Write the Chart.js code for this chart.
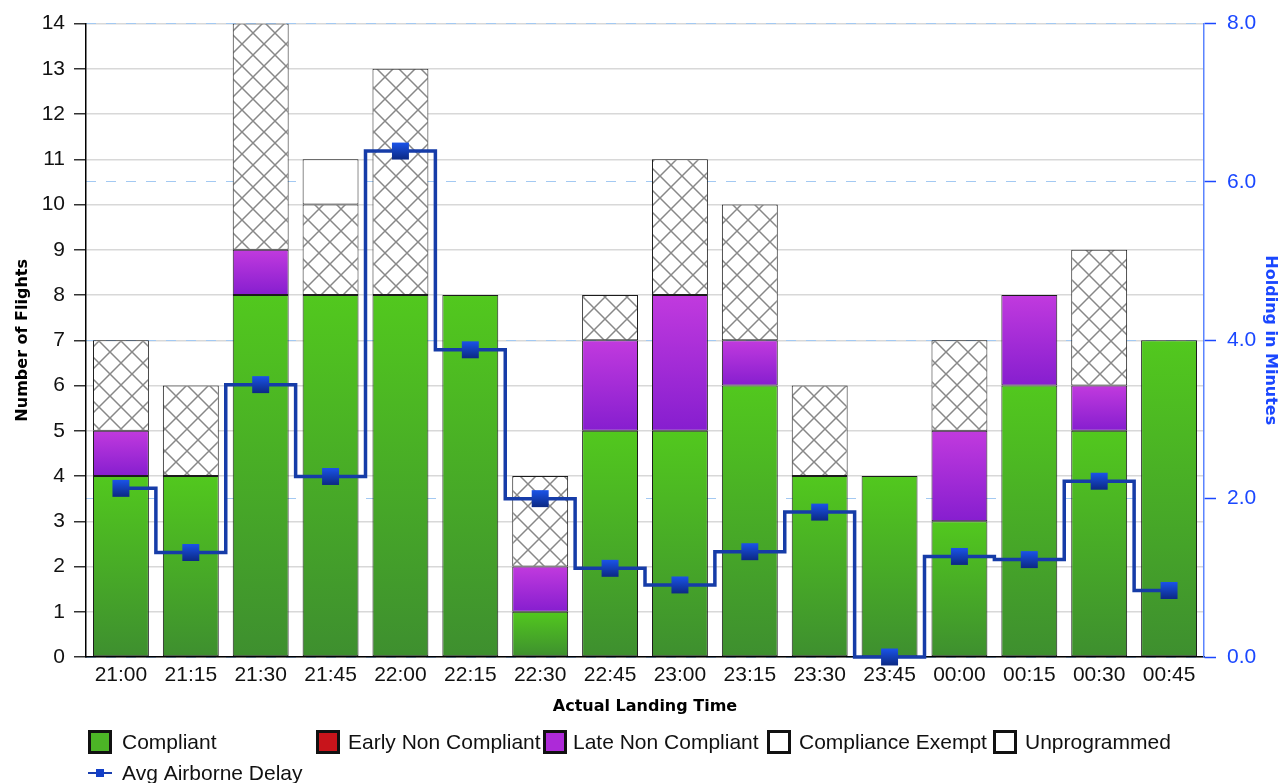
<!DOCTYPE html>
<html>
<head>
<meta charset="utf-8">
<script src="https://cdn.jsdelivr.net/npm/chart.js@4.4.1/dist/chart.umd.min.js"></script>
<style>
  html, body { margin: 0; padding: 0; background: #fff; }
  #wrap { width: 1284px; height: 783px; }
</style>
</head>
<body>
<div id="wrap"><canvas id="chart" width="1284" height="783"></canvas></div>
<script>
// --- Data ---
const timeLabels = ["21:00", "21:15", "21:30", "21:45", "22:00", "22:15", "22:30", "22:45",
                    "23:00", "23:15", "23:30", "23:45", "00:00", "00:15", "00:30", "00:45"];
const compliant         = [4, 4, 8, 8, 8, 8, 1, 5, 5, 6, 4, 4, 3, 6, 5, 7];
const earlyNonCompliant = [0, 0, 0, 0, 0, 0, 0, 0, 0, 0, 0, 0, 0, 0, 0, 0];
const lateNonCompliant  = [1, 0, 1, 0, 0, 0, 1, 2, 3, 1, 0, 0, 2, 2, 1, 0];
const complianceExempt  = [2, 2, 5, 2, 5, 0, 2, 1, 3, 3, 2, 0, 2, 0, 3, 0];
const unprogrammed      = [0, 0, 0, 1, 0, 0, 0, 0, 0, 0, 0, 0, 0, 0, 0, 0];
const avgAirborneDelay  = [2.13, 1.32, 3.44, 2.28, 6.39, 3.88, 2.0, 1.12,
                           0.91, 1.33, 1.83, 0.0, 1.27, 1.23, 2.22, 0.84];
const leftTicks  = { min: 0, max: 14, step: 1 };
const rightTicks = { min: 0, max: 8, step: 2 };

const stacks = [compliant, earlyNonCompliant, lateNonCompliant, complianceExempt, unprogrammed];

const tickFont = { family: "Liberation Sans", size: 21 };
const titleFont = { family: "DejaVu Sans", size: 16, weight: "bold" };

const ctx = document.getElementById("chart").getContext("2d");

// crosshatch used for the exempt flights
function makeHatch() {
  const c = document.createElement("canvas");
  c.width = 22; c.height = 22;
  const g = c.getContext("2d");
  g.fillStyle = "#fff";
  g.fillRect(0, 0, 22, 22);
  g.strokeStyle = "#888";
  g.lineWidth = 1.5;
  g.beginPath();
  g.moveTo(0, 0); g.lineTo(22, 22);
  g.moveTo(22, 0); g.lineTo(0, 22);
  g.stroke();
  return ctx.createPattern(c, "repeat");
}
const hatch = makeHatch();

function stackStart(ds, i) {
  let s = 0;
  for (let k = 0; k < ds; k++) s += stacks[k][i];
  return s;
}

// vertical gradient per bar segment, light at the top
function segGradient(ds, top, bottom) {
  return (c) => {
    const chart = c.chart;
    if (!chart.chartArea || c.type !== "data") return top;
    const v = stacks[ds][c.dataIndex];
    if (!v) return top;
    const y = chart.scales.y;
    const s = stackStart(ds, c.dataIndex);
    const g = chart.ctx.createLinearGradient(0, y.getPixelForValue(s + v), 0, y.getPixelForValue(s));
    g.addColorStop(0, top);
    g.addColorStop(1, bottom);
    return g;
  };
}

function markerFill(c) {
  const chart = c.chart;
  if (!chart.chartArea || c.type !== "data") return "#1747d6";
  const py = chart.scales.y1.getPixelForValue(avgAirborneDelay[c.dataIndex]);
  const g = chart.ctx.createLinearGradient(0, py - 8, 0, py + 8);
  g.addColorStop(0, "#1a52e6");
  g.addColorStop(1, "#0c2a86");
  return g;
}

const hideZero = (ds) => (c) => (stacks[ds][c.dataIndex] ? 1 : 0);

// --- Legend laid out in fixed columns like the original ---
const legendBoxX  = [88, 316, 543, 767, 993];
const legendTextX = [122, 348, 573, 799, 1025];
const legendFill  = ["#4cb526", "#c8141b", "#ad2ad8", "#ffffff", "#ffffff"];

const columnLegend = {
  id: "columnLegend",
  afterDraw(chart) {
    const c = chart.ctx;
    const sets = chart.data.datasets;
    c.save();
    c.font = '21px "Liberation Sans"';
    c.textBaseline = "middle";
    for (let i = 0; i < 5; i++) {
      const x = legendBoxX[i], y = 742;
      c.fillStyle = legendFill[i];
      c.fillRect(x + 1.5, y - 10.5, 21, 21);
      c.lineWidth = 3;
      c.strokeStyle = "#111";
      c.strokeRect(x + 1.5, y - 10.5, 21, 21);
      c.fillStyle = "#111";
      c.fillText(sets[i].label, legendTextX[i], y + 1);
    }
    // line entry
    const ly = 773;
    c.strokeStyle = "#1a3fb0";
    c.lineWidth = 2;
    c.beginPath();
    c.moveTo(88, ly); c.lineTo(112, ly);
    c.stroke();
    c.fillStyle = "#1440c8";
    c.fillRect(96, ly - 4, 8, 8);
    c.fillStyle = "#111";
    c.fillText(sets[5].label, 122, ly + 1);
    c.restore();
  }
};

const barCommon = {
  type: "bar",
  borderColor: "#1c1c1c",
  barPercentage: 0.8,
  categoryPercentage: 1.0,
  borderSkipped: false,
  yAxisID: "y",
  order: 1
};

new Chart(ctx, {
  data: {
    labels: timeLabels,
    datasets: [
      { ...barCommon, label: "Compliant", data: compliant,
        backgroundColor: segGradient(0, "#52c81e", "#3e8f2f"), borderWidth: hideZero(0) },
      { ...barCommon, label: "Early Non Compliant", data: earlyNonCompliant,
        backgroundColor: segGradient(1, "#e01b1b", "#a80d12"), borderWidth: hideZero(1) },
      { ...barCommon, label: "Late Non Compliant", data: lateNonCompliant,
        backgroundColor: segGradient(2, "#c13ade", "#861ecf"), borderWidth: hideZero(2) },
      { ...barCommon, label: "Compliance Exempt", data: complianceExempt,
        backgroundColor: hatch, borderWidth: hideZero(3) },
      { ...barCommon, label: "Unprogrammed", data: unprogrammed,
        backgroundColor: "#ffffff", borderWidth: hideZero(4) },
      {
        type: "line",
        label: "Avg Airborne Delay",
        data: avgAirborneDelay,
        yAxisID: "y1",
        stepped: "middle",
        borderColor: "#163ca8",
        borderWidth: 3.5,
        pointStyle: "rect",
        pointRadius: 12,
        pointBorderWidth: 0,
        pointBackgroundColor: markerFill,
        clip: false,
        order: 0
      }
    ]
  },
  options: {
    responsive: false,
    animation: false,
    layout: { padding: { top: 22, bottom: 62, left: 0, right: 0 } },
    plugins: {
      legend: { display: false },
      tooltip: { enabled: false }
    },
    scales: {
      x: {
        stacked: true,
        grid: { display: false, drawTicks: false },
        border: { color: "#000", width: 1.5 },
        ticks: { color: "#111", font: tickFont, padding: 6, maxRotation: 0, autoSkip: false },
        title: { display: true, text: "Actual Landing Time", color: "#000", font: titleFont,
                 padding: { top: 0, bottom: 5 } },
        afterFit: (s) => { s.height = 64; }
      },
      y: {
        stacked: true,
        position: "left",
        min: leftTicks.min,
        max: leftTicks.max,
        ticks: { stepSize: leftTicks.step, color: "#111", font: tickFont, padding: 9 },
        grid: { color: "#d8d8d8", lineWidth: 1.5, tickLength: 12, tickColor: "#333", tickWidth: 1.5 },
        border: { color: "#000", width: 1.5 },
        title: { display: true, text: "Number of Flights", color: "#000", font: titleFont,
                 padding: { top: 13, bottom: 0 } },
        afterFit: (s) => { s.width = 86; }
      },
      y1: {
        position: "right",
        min: rightTicks.min,
        max: rightTicks.max,
        ticks: { stepSize: rightTicks.step, color: "#1a47ff", font: tickFont, padding: 11,
                 callback: (v) => v.toFixed(1) },
        grid: { color: "#a3c9f2", lineWidth: 1, tickLength: 12, tickColor: "#1a47ff",
                tickWidth: 1.5, tickBorderDash: [] },
        border: { color: "#5b84ff", width: 1.5, dash: [10, 10] },
        title: { display: true, text: "Holding in Minutes", color: "#1a47ff", font: titleFont,
                 padding: { top: 4, bottom: 0 } },
        afterFit: (s) => { s.width = 80; }
      }
    }
  },
  plugins: [columnLegend]
});
</script>
</body>
</html>
